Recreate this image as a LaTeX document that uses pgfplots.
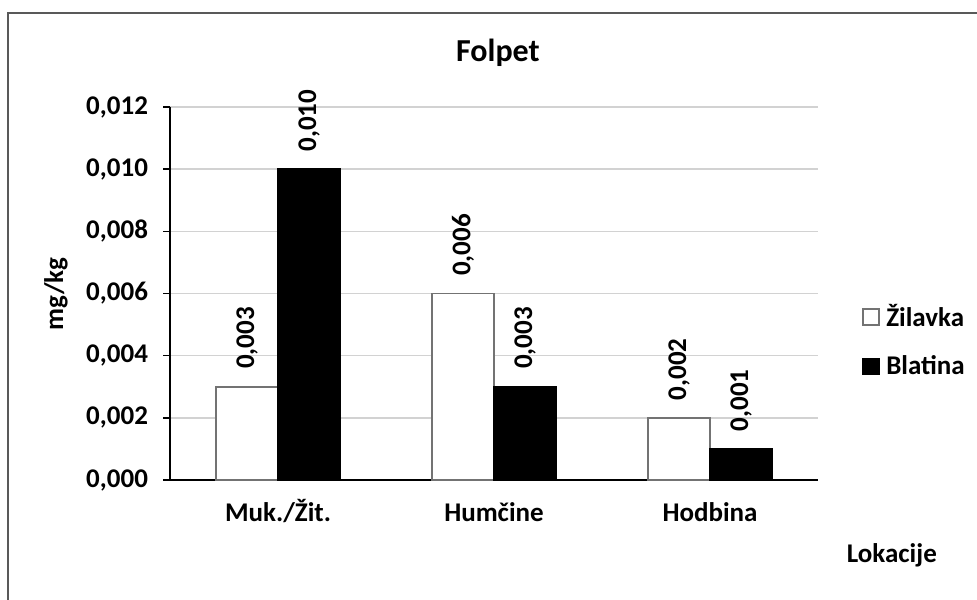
\documentclass[border=0pt]{standalone}
\usepackage{fontspec}
\setmainfont{Carlito}
\usepackage{pgfplots}
\pgfplotsset{compat=1.18}
\newcommand\lbl{\bfseries\fontsize{13.5}{16}\selectfont}
\begin{document}
\begin{tikzpicture}[x=1pt,y=1pt]
\useasboundingbox (0,0) rectangle (488.5,299.5);
\draw[line width=1.2pt, black!65] (4,-10) -- (4,293) -- (500,293);
\begin{axis}[
  at={(85pt,59.5pt)}, anchor=south west,
  scale only axis, width=324pt, height=186.5pt,
  ybar=0pt, bar width=31pt,
  xmin=0.5, xmax=3.5, ymin=0, ymax=0.012,
  ytick={0,0.002,0.004,0.006,0.008,0.010,0.012},
  xtick={1,2,3},
  xticklabels={Muk./Žit., Humčine, Hodbina},
  extra x ticks={0.5,1.5,2.5,3.5},
  extra x tick labels={},
  extra x tick style={major tick length=3.5pt, grid=none},
  major x tick style={draw=none},
  scaled y ticks=false,
  /pgf/number format/.cd, fixed, fixed zerofill, precision=3, use comma, assume math mode=true,
  /pgfplots/.cd,
  axis x line=bottom, axis y line=left,
  axis line style={-, line width=0.8pt, black},
  tick style={line width=0.8pt, black},
  tick align=outside,
  major tick length=3.5pt,
  ymajorgrids, grid style={gray!35, line width=0.7pt},
  tick label style={font=\lbl},
  yticklabel style={xshift=-4pt},
  xticklabel style={text height=9.5pt, text depth=3pt, yshift=-4pt},
  nodes near coords,
  nodes near coords style={rotate=90, anchor=west, font=\lbl, inner xsep=8.5pt, inner ysep=0pt},
  title={Folpet},
  title style={at={(0.506,1.113)}, anchor=center, font=\bfseries\fontsize{16}{19}\selectfont},
  xlabel={Lokacije},
  xlabel style={at={(1.114,-0.201)}, anchor=center, font=\lbl},
  ylabel={mg/kg},
  ylabel style={at={(-0.176,0.499)}, anchor=center, font=\lbl},
  legend style={at={(1.068,0.373)}, anchor=west, draw=none, fill=none, font=\lbl,
    inner sep=0pt, row sep=9pt, cells={anchor=west}},
  legend image code/.code={\draw[#1, line width=0.8pt] (0pt,-4pt) rectangle (8pt,4pt); \path[draw=none, fill=none] (8pt,0pt) -- (9.5pt,0pt);},
]
\addplot[fill=white, draw=black!55, line width=0.8pt] coordinates {(1,0.003) (2,0.006) (3,0.002)};
\addplot[fill=black, draw=black, line width=0.8pt] coordinates {(1,0.010) (2,0.003) (3,0.001)};
\legend{Žilavka, Blatina}
\end{axis}
\end{tikzpicture}
\end{document}
